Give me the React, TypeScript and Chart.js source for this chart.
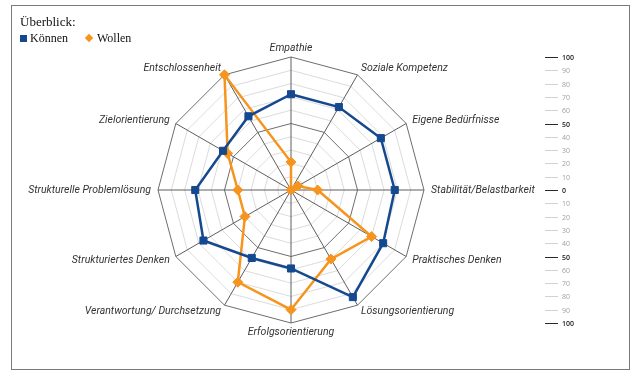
import React, { useEffect, useRef } from 'react';
import { Chart, registerables } from 'chart.js';

Chart.register(...registerables);

const categories = [
  'Empathie',
  'Soziale Kompetenz',
  'Eigene Bedürfnisse',
  'Stabilität/Belastbarkeit',
  'Praktisches Denken',
  'Lösungsorientierung',
  'Erfolgsorientierung',
  'Verantwortung/ Durchsetzung',
  'Strukturiertes Denken',
  'Strukturelle Problemlösung',
  'Zielorientierung',
  'Entschlossenheit',
];
const koennen = [72, 72, 78, 78, 80, 93, 59, 59, 76, 72, 59, 64];
const wollen = [21, 0, 6, 20, 70, 60, 90, 80, 40, 40, 55, 100];
const sideTickValues = [100, 90, 80, 70, 60, 50, 40, 30, 20, 10, 0, -10, -20, -30, -40, -50, -60, -70, -80, -90, -100];
const sideTickLabels = ['100', '90', '80', '70', '60', '50', '40', '30', '20', '10', '0', '10', '20', '30', '40', '50', '60', '70', '80', '90', '100'];

const BLUE = '#15498f';
const ORANGE = '#f7941d';
const LABEL_FONT = 'italic 10.5px Roboto, sans-serif';

const framePlugin = {
  id: 'frame',
  beforeDraw(chart: any) {
    const ctx = chart.ctx;
    ctx.save();
    ctx.fillStyle = '#ffffff';
    ctx.fillRect(0, 0, chart.width, chart.height);
    ctx.strokeStyle = '#7a7a7a';
    ctx.lineWidth = 1;
    ctx.strokeRect(11.5, 5.5, 618, 364);
    ctx.restore();
  },
  afterDraw(chart: any) {
    const s = chart.scales.r;
    const ctx = chart.ctx;
    ctx.save();
    // axis labels around the web
    ctx.font = LABEL_FONT;
    ctx.fillStyle = '#333333';
    const n = categories.length;
    categories.forEach((lab, i) => {
      const deg = (i * 360) / n;
      const p = s.getPointPosition(i, s.drawingArea + 7);
      if (deg === 0) {
        ctx.textAlign = 'center';
        ctx.textBaseline = 'bottom';
        ctx.fillText(lab, s.xCenter, s.yCenter - s.drawingArea - 3);
      } else if (deg === 180) {
        ctx.textAlign = 'center';
        ctx.textBaseline = 'top';
        ctx.fillText(lab, s.xCenter, s.yCenter + s.drawingArea + 4);
      } else {
        ctx.textAlign = deg < 180 ? 'left' : 'right';
        ctx.textBaseline = 'middle';
        ctx.fillText(lab, p.x, p.y);
      }
    });
    // side scale
    sideTickValues.forEach((v, i) => {
      const y = Math.round(s.yCenter - Math.sign(v) * s.getDistanceFromCenterForValue(Math.abs(v))) + 0.5;
      const major = Math.abs(v) % 50 === 0;
      ctx.strokeStyle = major ? '#2a2a2a' : '#d2d2d2';
      ctx.lineWidth = 1;
      ctx.beginPath();
      ctx.moveTo(545, y);
      ctx.lineTo(558, y);
      ctx.stroke();
      ctx.fillStyle = major ? '#222222' : '#a0a0a0';
      ctx.font = (major ? '600 ' : '') + '7px "Open Sans", sans-serif';
      ctx.textAlign = 'left';
      ctx.textBaseline = 'middle';
      ctx.fillText(sideTickLabels[i], 562, y);
    });
    ctx.restore();
  },
};

function RadarChart() {
  const ref = useRef<HTMLCanvasElement | null>(null);
  useEffect(() => {
    if (!ref.current) return;
    const chart = new Chart(ref.current, {
      type: 'radar',
      data: {
        labels: categories,
        datasets: [
          {
            label: 'Können',
            data: koennen,
            borderColor: BLUE,
            backgroundColor: BLUE,
            borderWidth: 2.5,
            fill: false,
            pointStyle: 'rect',
            pointRadius: 5,
            pointBackgroundColor: BLUE,
            pointBorderColor: BLUE,
            pointBorderWidth: 1,
          },
          {
            label: 'Wollen',
            data: wollen,
            borderColor: ORANGE,
            backgroundColor: ORANGE,
            borderWidth: 2.5,
            fill: false,
            pointStyle: 'rectRot',
            pointRadius: 5,
            pointBackgroundColor: ORANGE,
            pointBorderColor: ORANGE,
            pointBorderWidth: 1,
          },
        ],
      },
      options: {
        responsive: false,
        animation: false,
        layout: { padding: { top: 57, bottom: 53, left: 158, right: 216 } },
        plugins: {
          legend: { display: false },
          tooltip: { enabled: false },
          title: { display: false },
        },
        elements: { line: { tension: 0 } },
        scales: {
          r: {
            min: 0,
            max: 100,
            beginAtZero: true,
            ticks: { stepSize: 10, display: false },
            grid: {
              circular: false,
              lineWidth: 1,
              color: (c: any) =>
                c.tick && (c.tick.value === 50 || c.tick.value === 100) ? '#6e6e6e' : '#dcdcdc',
            },
            angleLines: { display: true, color: '#5e5e5e', lineWidth: 1 },
            pointLabels: { display: false },
          },
        },
      },
      plugins: [framePlugin],
    });
    return () => chart.destroy();
  }, []);
  return <canvas ref={ref} width={640} height={376} style={{ display: 'block' }} />;
}

export default function App() {
  const serif = '"Liberation Serif", "Times New Roman", serif';
  return (
    <div style={{ position: 'fixed', left: 0, top: 0, width: 640, height: 376, background: '#fff' }}>
      <RadarChart />
      <div style={{ position: 'absolute', left: 20, top: 14, fontFamily: serif, fontSize: 13, color: '#111', lineHeight: '15px' }}>
        Überblick:
      </div>
      <div style={{ position: 'absolute', left: 20, top: 31, fontFamily: serif, fontSize: 12, color: '#111', lineHeight: '14px', display: 'flex', alignItems: 'center' }}>
        <span style={{ display: 'inline-block', width: 7, height: 7, background: BLUE, marginRight: 3 }} />
        <span>Können</span>
        <span style={{ display: 'inline-block', width: 6, height: 6, background: ORANGE, transform: 'rotate(45deg)', marginLeft: 18, marginRight: 5 }} />
        <span>Wollen</span>
      </div>
    </div>
  );
}
